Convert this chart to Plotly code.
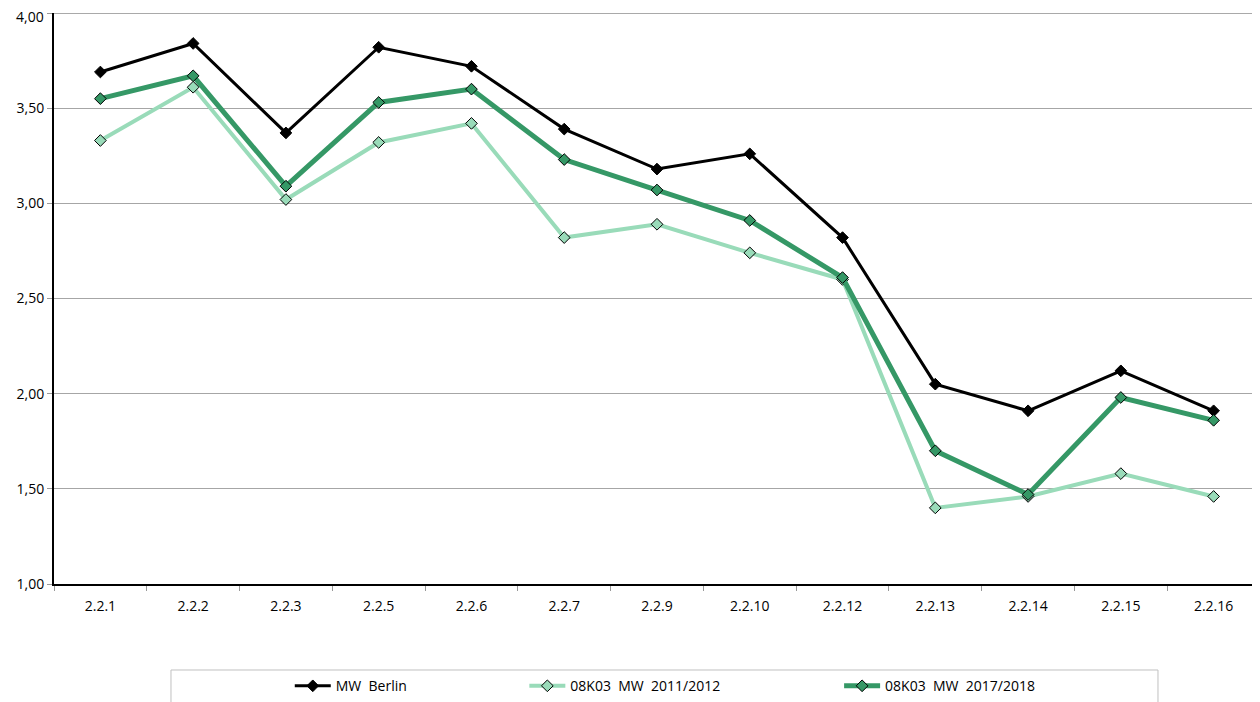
import plotly.graph_objects as go

# Daten
kategorien = ["2.2.1", "2.2.2", "2.2.3", "2.2.5", "2.2.6", "2.2.7", "2.2.9",
              "2.2.10", "2.2.12", "2.2.13", "2.2.14", "2.2.15", "2.2.16"]

mw_berlin = [3.69, 3.84, 3.37, 3.82, 3.72, 3.39, 3.18, 3.26, 2.82, 2.05, 1.91, 2.12, 1.91]
mw_2011_2012 = [3.33, 3.61, 3.02, 3.32, 3.42, 2.82, 2.89, 2.74, 2.60, 1.40, 1.46, 1.58, 1.46]
mw_2017_2018 = [3.55, 3.67, 3.09, 3.53, 3.60, 3.23, 3.07, 2.91, 2.61, 1.70, 1.47, 1.98, 1.86]

y_ticks = [1.0, 1.5, 2.0, 2.5, 3.0, 3.5, 4.0]

HELLGRUEN = "#99dbb9"
DUNKELGRUEN = "#359866"
FONT = "Open Sans"


def komma(v):
    return f"{v:.2f}".replace(".", ",")


def erstelle_figur():
    fig = go.Figure()

    fig.add_trace(go.Scatter(
        x=kategorien, y=mw_berlin, name="MW  Berlin",
        mode="lines+markers",
        line=dict(color="black", width=3),
        marker=dict(symbol="diamond", size=9, color="black",
                    line=dict(color="black", width=1)),
        legend="legend",
    ))
    fig.add_trace(go.Scatter(
        x=kategorien, y=mw_2011_2012, name="08K03  MW  2011/2012",
        mode="lines+markers",
        line=dict(color=HELLGRUEN, width=4),
        marker=dict(symbol="diamond", size=9, color=HELLGRUEN,
                    line=dict(color="black", width=1)),
        legend="legend2",
    ))
    fig.add_trace(go.Scatter(
        x=kategorien, y=mw_2017_2018, name="08K03  MW  2017/2018",
        mode="lines+markers",
        line=dict(color=DUNKELGRUEN, width=5),
        marker=dict(symbol="diamond", size=9, color=DUNKELGRUEN,
                    line=dict(color="black", width=1)),
        legend="legend3",
    ))

    leg_basis = dict(orientation="h", yanchor="middle", y=-0.179, xanchor="left",
                     bgcolor="rgba(0,0,0,0)", itemwidth=36,
                     font=dict(family=FONT, size=14, color="black"))

    # oberster Tickwert als Annotation, damit er am Rand nicht abgeschnitten wird
    tick_texte = [komma(v) for v in y_ticks[:-1]] + [""]

    # die Seite hat 8px Rand, daher Ränder entsprechend kleiner
    fig.update_layout(
        width=1260, height=702,
        margin=dict(l=46, r=8, t=5, b=126),
        paper_bgcolor="white", plot_bgcolor="white",
        font=dict(family=FONT, size=14, color="black"),
        showlegend=True,
        legend=dict(leg_basis, x=0.1955),
        legend2=dict(leg_basis, x=0.39),
        legend3=dict(leg_basis, x=0.651),
        shapes=[
            dict(type="rect", xref="paper", yref="paper",
                 x0=0.097, x1=0.9154, y0=-0.1506, y1=-0.3,
                 line=dict(color="#c0c0c0", width=1), layer="below"),
            # obere Gitterlinie bei 4,00
            dict(type="line", xref="paper", yref="y", x0=0, x1=1, y0=4.0, y1=4.0,
                 line=dict(color="#8c8c8c", width=1.5), layer="below"),
        ],
        annotations=[
            dict(text=komma(y_ticks[-1]), xref="paper", yref="y", x=0, y=y_ticks[-1],
                 xanchor="right", yanchor="middle", xshift=-8, yshift=-3,
                 showarrow=False, font=dict(family=FONT, size=14, color="black")),
        ],
    )

    fig.update_xaxes(
        type="category", range=[-0.5, len(kategorien) - 0.5],
        showline=True, linecolor="black", linewidth=2,
        ticks="outside", tickson="boundaries", ticklen=5, tickcolor="#999999",
        ticklabelstandoff=8, automargin=False,
        showgrid=False, tickfont=dict(family=FONT, size=14),
    )
    fig.update_yaxes(
        range=[1.0, 4.0], tickvals=y_ticks, ticktext=tick_texte,
        showline=True, linecolor="black", linewidth=2,
        ticks="outside", ticklen=5, tickcolor="#999999",
        automargin=False,
        showgrid=True, gridcolor="#a6a6a6", gridwidth=1,
        zeroline=False, tickfont=dict(family=FONT, size=14),
    )
    return fig


def main():
    fig = erstelle_figur()
    fig.write_html("out.html")


if __name__ == "__main__":
    main()
